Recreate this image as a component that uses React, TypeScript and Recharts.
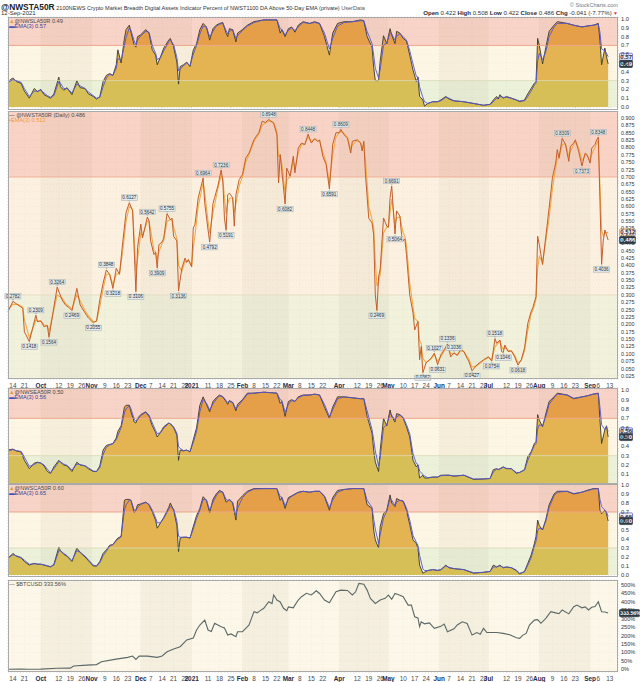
import React from "react";
import {
  Area,
  CartesianGrid,
  ComposedChart,
  Line,
  ReferenceArea,
  ReferenceDot,
  ReferenceLine,
  Scatter,
  XAxis,
  YAxis,
} from "recharts";

const FONT = '"Liberation Sans", Arial, sans-serif';

// x axis is a day count from 11-Sep-2020
const TICK_DAYS = [3, 10, 20, 31, 38, 45, 51, 59, 66, 73, 81, 87, 94, 101, 108, 112, 122, 129, 136, 143, 150, 157, 164, 171, 178, 185, 192, 202, 213, 220, 227, 232, 241, 248, 255, 263, 269, 276, 283, 290, 293, 304, 311, 318, 324, 332, 339, 346, 355, 360, 367];
const TICK_LABELS = ["14", "21", "Oct", "12", "19", "26", "Nov", "9", "16", "23", "Dec", "7", "14", "21", "28", "2021", "11", "18", "25", "Feb", "8", "15", "22", "Mar", "8", "15", "22", "Apr", "12", "19", "26", "May", "10", "17", "24", "Jun", "7", "14", "21", "28", "Jul", "12", "19", "26", "Aug", "9", "16", "23", "Sep", "6", "13"];
const SHADED_MONTHS = [[20, 51], [81, 112], [143, 171], [202, 232], [263, 293], [324, 355]];

const TENTHS = [0, 0.1, 0.2, 0.3, 0.4, 0.5, 0.6, 0.7, 0.8, 0.9, 1.0];
const TENTHS_NO_ZERO = [0.1, 0.2, 0.3, 0.4, 0.5, 0.6, 0.7, 0.8, 0.9, 1.0];
const STA_TICKS = [0.025, 0.05, 0.075, 0.1, 0.125, 0.15, 0.175, 0.2, 0.225, 0.25, 0.275, 0.3, 0.325, 0.35, 0.375, 0.4, 0.425, 0.45, 0.475, 0.5, 0.525, 0.55, 0.575, 0.6, 0.625, 0.65, 0.675, 0.7, 0.725, 0.75, 0.775, 0.8, 0.825, 0.85, 0.875, 0.9];
const BTC_TICKS = [0, 50, 100, 150, 200, 250, 300, 350, 400, 450, 500];

// days shared by the three area panels
const GRID_DAYS = [
  0, 3, 5, 8, 10, 13, 16, 18, 20, 22,
  24, 26, 28, 31, 32, 34, 36, 39, 42, 44,
  47, 49, 52, 54, 56, 58, 60, 62, 64, 66,
  67, 69, 71, 72, 74, 75, 77, 78, 79, 81,
  84, 86, 88, 90, 91, 93, 95, 98, 99, 101,
  103, 104, 105, 107, 109, 111, 113, 115, 117, 119,
  121, 123, 125, 127, 129, 131, 133, 134, 135, 137,
  139, 140, 143, 146, 150, 156, 164, 166, 167, 169,
  171, 173, 175, 177, 180, 184, 187, 190, 193, 196,
  198, 201, 205, 210, 215, 217, 219, 222, 223, 224,
  226, 227, 229, 231, 233, 234, 236, 237, 239, 241,
  243, 245, 247, 249, 250, 251, 253, 254, 256, 259,
  262, 264, 267, 269, 272, 278, 284, 290, 294, 296,
  298, 299, 300, 302, 304, 307, 310, 312, 315, 317,
  319, 321, 322, 323, 324, 326, 328, 330, 333, 335,
  341, 345, 350, 353, 357, 360, 361, 362, 364, 365, 366,
];

// @NWSLA50R
const SLA_VALUES = [
  0.29, 0.33, 0.29, 0.27, 0.18, 0.10, 0.21, 0.175, 0.20, 0.14,
  0.12, 0.10, 0.15, 0.34, 0.23, 0.19, 0.22, 0.14, 0.30, 0.22,
  0.21, 0.15, 0.12, 0.09, 0.12, 0.29, 0.36, 0.38, 0.36, 0.48,
  0.65, 0.50, 0.78, 0.88, 0.93, 0.85, 0.70, 0.68, 0.80, 0.82,
  0.88, 0.84, 0.65, 0.59, 0.48, 0.57, 0.67, 0.76, 0.78, 0.68,
  0.51, 0.26, 0.46, 0.48, 0.51, 0.46, 0.65, 0.72, 0.88, 0.95,
  0.91, 0.76, 0.89, 0.93, 0.95, 0.96, 0.84, 0.80, 0.89, 0.88,
  0.74, 0.84, 0.88, 0.93, 0.97, 0.99, 0.99, 0.84, 0.88, 0.80,
  0.89, 0.91, 0.85, 0.93, 0.97, 0.95, 0.97, 0.95, 0.80, 0.59,
  0.84, 0.95, 0.97, 0.97, 0.99, 0.98, 0.80, 0.68, 0.45, 0.30,
  0.30, 0.53, 0.81, 0.72, 0.89, 0.82, 0.72, 0.86, 0.84, 0.78,
  0.75, 0.59, 0.42, 0.29, 0.34, 0.12, 0.08, 0.01, 0.04, 0.06,
  0.06, 0.08, 0.12, 0.09, 0.07, 0.06, 0.04, 0.02, 0.03, 0.08,
  0.12, 0.09, 0.14, 0.10, 0.12, 0.10, 0.08, 0.06, 0.08, 0.15,
  0.21, 0.27, 0.29, 0.78, 0.70, 0.49, 0.68, 0.86, 0.93, 0.97,
  0.95, 0.93, 0.91, 0.92, 0.93, 0.95, 0.75, 0.48, 0.67, 0.57, 0.49,
];
const SLA_EMA = [
  0.28, 0.31, 0.30, 0.28, 0.21, 0.12, 0.18, 0.18, 0.19, 0.16,
  0.13, 0.11, 0.13, 0.29, 0.27, 0.21, 0.21, 0.16, 0.26, 0.24,
  0.21, 0.17, 0.13, 0.10, 0.11, 0.23, 0.33, 0.37, 0.36, 0.44,
  0.55, 0.53, 0.70, 0.79, 0.90, 0.87, 0.75, 0.71, 0.76, 0.81,
  0.86, 0.85, 0.70, 0.61, 0.54, 0.56, 0.64, 0.74, 0.76, 0.71,
  0.56, 0.41, 0.43, 0.47, 0.50, 0.47, 0.60, 0.70, 0.83, 0.92,
  0.91, 0.80, 0.86, 0.92, 0.94, 0.95, 0.87, 0.83, 0.86, 0.88,
  0.78, 0.81, 0.87, 0.92, 0.96, 0.99, 0.99, 0.89, 0.88, 0.82,
  0.87, 0.90, 0.87, 0.91, 0.96, 0.95, 0.96, 0.95, 0.84, 0.66,
  0.78, 0.92, 0.96, 0.97, 0.98, 0.98, 0.86, 0.72, 0.59, 0.44,
  0.33, 0.43, 0.70, 0.73, 0.84, 0.83, 0.76, 0.81, 0.83, 0.80,
  0.76, 0.64, 0.49, 0.35, 0.34, 0.23, 0.11, 0.06, 0.04, 0.06,
  0.06, 0.07, 0.11, 0.10, 0.07, 0.06, 0.04, 0.02, 0.03, 0.06,
  0.10, 0.10, 0.12, 0.11, 0.11, 0.10, 0.08, 0.07, 0.07, 0.12,
  0.18, 0.25, 0.27, 0.52, 0.61, 0.54, 0.63, 0.80, 0.91, 0.95,
  0.95, 0.93, 0.91, 0.92, 0.93, 0.94, 0.85, 0.66, 0.64, 0.61, 0.57,
];

// @NWSEA50R
const SEA_VALUES = [
  0.36, 0.37, 0.35, 0.34, 0.25, 0.16, 0.22, 0.23, 0.22, 0.19,
  0.13, 0.11, 0.18, 0.25, 0.23, 0.20, 0.19, 0.13, 0.23, 0.20,
  0.19, 0.16, 0.13, 0.13, 0.19, 0.36, 0.41, 0.42, 0.43, 0.49,
  0.56, 0.62, 0.82, 0.84, 0.84, 0.77, 0.66, 0.65, 0.70, 0.74,
  0.77, 0.72, 0.62, 0.55, 0.50, 0.55, 0.61, 0.65, 0.64, 0.60,
  0.52, 0.25, 0.36, 0.35, 0.36, 0.34, 0.47, 0.60, 0.84, 0.93,
  0.85, 0.77, 0.88, 0.92, 0.95, 0.93, 0.88, 0.85, 0.89, 0.87,
  0.78, 0.85, 0.90, 0.97, 0.97, 0.98, 0.97, 0.86, 0.88, 0.72,
  0.88, 0.90, 0.88, 0.93, 0.95, 0.95, 0.96, 0.95, 0.82, 0.70,
  0.82, 0.93, 0.93, 0.92, 0.91, 0.91, 0.72, 0.54, 0.36, 0.23,
  0.13, 0.36, 0.70, 0.62, 0.79, 0.72, 0.66, 0.75, 0.74, 0.70,
  0.61, 0.50, 0.25, 0.18, 0.20, 0.06, 0.09, 0.06, 0.06, 0.07,
  0.07, 0.09, 0.09, 0.09, 0.08, 0.09, 0.045, 0.05, 0.055, 0.15,
  0.16, 0.15, 0.16, 0.18, 0.16, 0.16, 0.11, 0.12, 0.15, 0.29,
  0.34, 0.43, 0.45, 0.74, 0.68, 0.61, 0.75, 0.88, 0.93, 0.97,
  0.95, 0.91, 0.93, 0.94, 0.96, 0.97, 0.68, 0.43, 0.58, 0.62, 0.50,
];
const SEA_EMA = [
  0.35, 0.365, 0.355, 0.345, 0.285, 0.185, 0.205, 0.225, 0.222, 0.20,
  0.155, 0.12, 0.16, 0.235, 0.232, 0.21, 0.195, 0.145, 0.21, 0.205,
  0.19, 0.17, 0.135, 0.13, 0.17, 0.31, 0.39, 0.415, 0.427, 0.47,
  0.515, 0.60, 0.76, 0.80, 0.835, 0.80, 0.69, 0.67, 0.685, 0.73,
  0.765, 0.735, 0.65, 0.57, 0.535, 0.545, 0.595, 0.645, 0.643, 0.61,
  0.54, 0.395, 0.378, 0.355, 0.358, 0.345, 0.44, 0.56, 0.77, 0.90,
  0.865, 0.79, 0.855, 0.905, 0.94, 0.935, 0.89, 0.87, 0.88, 0.872,
  0.80, 0.825, 0.89, 0.96, 0.97, 0.98, 0.97, 0.90, 0.89, 0.765,
  0.85, 0.89, 0.883, 0.92, 0.945, 0.95, 0.958, 0.95, 0.85, 0.72,
  0.79, 0.91, 0.93, 0.92, 0.91, 0.91, 0.78, 0.58, 0.47, 0.35,
  0.19, 0.275, 0.60, 0.63, 0.75, 0.735, 0.68, 0.715, 0.737, 0.71,
  0.635, 0.535, 0.32, 0.215, 0.207, 0.135, 0.10, 0.08, 0.065, 0.07,
  0.07, 0.085, 0.09, 0.09, 0.082, 0.09, 0.05, 0.05, 0.055, 0.125,
  0.155, 0.153, 0.157, 0.175, 0.164, 0.16, 0.12, 0.12, 0.145, 0.25,
  0.33, 0.41, 0.43, 0.585, 0.63, 0.62, 0.72, 0.85, 0.92, 0.96,
  0.95, 0.915, 0.93, 0.94, 0.96, 0.965, 0.82, 0.63, 0.58, 0.61, 0.56,
];

// @NWSCA50R
const SCA_VALUES = [
  0.185, 0.24, 0.21, 0.19, 0.15, 0.11, 0.13, 0.12, 0.12, 0.11,
  0.10, 0.09, 0.12, 0.31, 0.27, 0.23, 0.21, 0.15, 0.30, 0.25,
  0.20, 0.16, 0.10, 0.10, 0.15, 0.24, 0.28, 0.33, 0.34, 0.39,
  0.41, 0.43, 0.83, 0.84, 0.84, 0.83, 0.69, 0.72, 0.78, 0.79,
  0.81, 0.78, 0.70, 0.61, 0.52, 0.58, 0.64, 0.75, 0.80, 0.72,
  0.55, 0.26, 0.41, 0.42, 0.42, 0.41, 0.54, 0.66, 0.74, 0.87,
  0.83, 0.69, 0.84, 0.90, 0.94, 0.92, 0.81, 0.82, 0.84, 0.80,
  0.61, 0.82, 0.88, 0.93, 0.96, 0.96, 0.96, 0.83, 0.86, 0.74,
  0.86, 0.88, 0.90, 0.92, 0.93, 0.92, 0.93, 0.93, 0.87, 0.72,
  0.86, 0.94, 0.95, 0.96, 0.96, 0.96, 0.78, 0.74, 0.50, 0.39,
  0.30, 0.54, 0.68, 0.72, 0.89, 0.80, 0.76, 0.85, 0.83, 0.82,
  0.72, 0.56, 0.39, 0.35, 0.30, 0.11, 0.02, 0.03, 0.05, 0.06,
  0.05, 0.06, 0.11, 0.08, 0.07, 0.06, 0.02, 0.03, 0.04, 0.11,
  0.09, 0.10, 0.11, 0.08, 0.09, 0.08, 0.05, 0.01, 0.04, 0.13,
  0.22, 0.35, 0.43, 0.61, 0.55, 0.50, 0.62, 0.78, 0.90, 0.93,
  0.93, 0.90, 0.92, 0.94, 0.96, 0.96, 0.72, 0.68, 0.72, 0.68, 0.60,
];
const SCA_EMA = [
  0.19, 0.225, 0.215, 0.195, 0.165, 0.12, 0.125, 0.122, 0.12, 0.113,
  0.103, 0.093, 0.11, 0.27, 0.27, 0.24, 0.215, 0.16, 0.27, 0.255,
  0.21, 0.17, 0.11, 0.10, 0.135, 0.215, 0.265, 0.32, 0.337, 0.38,
  0.395, 0.425, 0.72, 0.78, 0.83, 0.83, 0.72, 0.72, 0.75, 0.785,
  0.805, 0.785, 0.72, 0.635, 0.58, 0.58, 0.63, 0.73, 0.765, 0.735,
  0.60, 0.43, 0.42, 0.42, 0.42, 0.412, 0.51, 0.63, 0.72, 0.84,
  0.835, 0.72, 0.81, 0.88, 0.925, 0.92, 0.84, 0.83, 0.835, 0.81,
  0.66, 0.74, 0.86, 0.92, 0.955, 0.96, 0.96, 0.87, 0.865, 0.77,
  0.84, 0.875, 0.895, 0.915, 0.93, 0.92, 0.93, 0.93, 0.88, 0.75,
  0.83, 0.92, 0.95, 0.96, 0.96, 0.96, 0.83, 0.75, 0.62, 0.51,
  0.35, 0.45, 0.63, 0.71, 0.85, 0.83, 0.775, 0.81, 0.83, 0.822,
  0.745, 0.61, 0.44, 0.365, 0.33, 0.22, 0.07, 0.05, 0.05, 0.06,
  0.053, 0.058, 0.10, 0.085, 0.072, 0.06, 0.025, 0.03, 0.04, 0.09,
  0.09, 0.095, 0.103, 0.085, 0.088, 0.082, 0.055, 0.02, 0.035, 0.11,
  0.19, 0.32, 0.375, 0.49, 0.52, 0.51, 0.60, 0.75, 0.88, 0.92,
  0.93, 0.905, 0.92, 0.935, 0.955, 0.96, 0.84, 0.76, 0.72, 0.70, 0.65,
];

// @NWSTA50R (Daily) and its EMA(3)
const STA_DAYS = [
  0, 3, 6, 9, 10, 13, 17, 18, 20, 22,
  24, 25, 30, 33, 35, 37, 39, 42, 44, 47,
  49, 52, 54, 56, 58, 60, 62, 64, 66, 68,
  70, 72, 74, 76, 78, 79, 81, 82, 85, 86,
  87, 89, 90, 91, 92, 94, 95, 97, 99, 100,
  101, 103, 104, 106, 108, 109, 110, 112, 113, 114,
  116, 119, 120, 122, 123, 125, 126, 128, 130, 131,
  132, 133, 134, 135, 137, 138, 139, 141, 143, 145,
  147, 150, 152, 153, 155, 157, 159, 162, 164, 165,
  166, 167, 169, 170, 172, 174, 175, 177, 179, 181,
  183, 185, 187, 189, 190, 192, 194, 196, 198, 200,
  202, 203, 205, 207, 209, 210, 213, 215, 216, 217,
  218, 220, 222, 223, 224, 225, 226, 227, 229, 231,
  232, 233, 234, 236, 237, 239, 240, 241, 242, 243,
  245, 247, 248, 250, 251, 252, 253, 255, 258, 260,
  262, 264, 266, 268, 270, 272, 274, 276, 278, 280,
  281, 283, 286, 290, 293, 295, 297, 298, 300, 301,
  302, 303, 305, 307, 309, 311, 313, 315, 317, 319,
  320, 322, 323, 324, 326, 330, 332, 334, 335, 336,
  338, 340, 342, 343, 345, 346, 348, 350, 352, 353,
  355, 356, 358, 359, 360, 362, 363, 364, 366,
];
const STA_VALUES = [
  0.243, 0.2782, 0.266, 0.255, 0.175, 0.1418, 0.2309, 0.209, 0.212, 0.192,
  0.196, 0.1564, 0.3264, 0.283, 0.266, 0.258, 0.2469, 0.322, 0.266, 0.239,
  0.222, 0.2055, 0.212, 0.283, 0.34, 0.3848, 0.369, 0.3218, 0.39, 0.37,
  0.48, 0.58, 0.6127, 0.585, 0.3106, 0.46, 0.54, 0.493, 0.5642, 0.551,
  0.483, 0.437, 0.445, 0.3909, 0.47, 0.48, 0.493, 0.5755, 0.555, 0.56,
  0.499, 0.483, 0.3136, 0.39, 0.425, 0.41, 0.42, 0.395, 0.527, 0.538,
  0.629, 0.6964, 0.61, 0.52, 0.4792, 0.61, 0.63, 0.67, 0.7236, 0.686,
  0.56, 0.5191, 0.64, 0.645, 0.63, 0.533, 0.64, 0.691, 0.708, 0.764,
  0.781, 0.826, 0.843, 0.85, 0.889, 0.885, 0.8948, 0.883, 0.843, 0.68,
  0.776, 0.72, 0.6082, 0.73, 0.703, 0.77, 0.714, 0.798, 0.815, 0.81,
  0.8448, 0.815, 0.83, 0.82, 0.826, 0.77, 0.742, 0.6591, 0.81, 0.85,
  0.85, 0.8609, 0.843, 0.832, 0.781, 0.821, 0.826, 0.815, 0.788, 0.821,
  0.708, 0.56, 0.544, 0.504, 0.30, 0.2469, 0.36, 0.39, 0.561, 0.533,
  0.53, 0.63, 0.6691, 0.5064, 0.585, 0.567, 0.504, 0.483, 0.49, 0.437,
  0.30, 0.239, 0.181, 0.21, 0.08, 0.125, 0.0362, 0.07, 0.085, 0.1027,
  0.0631, 0.097, 0.114, 0.1336, 0.09, 0.1036, 0.095, 0.115, 0.108, 0.085,
  0.075, 0.0427, 0.063, 0.08, 0.09, 0.0754, 0.1518, 0.136, 0.147, 0.108,
  0.1046, 0.13, 0.108, 0.11, 0.09, 0.0618, 0.08, 0.12, 0.204, 0.243,
  0.256, 0.294, 0.499, 0.47, 0.403, 0.595, 0.697, 0.747, 0.793, 0.764,
  0.8309, 0.81, 0.753, 0.804, 0.815, 0.826, 0.787, 0.7373, 0.781, 0.776,
  0.747, 0.798, 0.81, 0.826, 0.8348, 0.4036, 0.483, 0.52, 0.486,
];
const STA_EMA = [
  0.25, 0.268, 0.268, 0.258, 0.216, 0.155, 0.215, 0.212, 0.211, 0.198,
  0.196, 0.176, 0.30, 0.29, 0.272, 0.262, 0.252, 0.30, 0.28, 0.246,
  0.23, 0.21, 0.21, 0.26, 0.32, 0.37, 0.37, 0.335, 0.37, 0.372,
  0.45, 0.55, 0.60, 0.59, 0.38, 0.42, 0.51, 0.50, 0.55, 0.55,
  0.52, 0.45, 0.447, 0.42, 0.445, 0.475, 0.485, 0.55, 0.555, 0.558,
  0.53, 0.49, 0.40, 0.38, 0.415, 0.413, 0.417, 0.40, 0.46, 0.50,
  0.60, 0.68, 0.645, 0.55, 0.51, 0.58, 0.605, 0.66, 0.705, 0.695,
  0.63, 0.575, 0.61, 0.627, 0.63, 0.58, 0.61, 0.67, 0.70, 0.75,
  0.775, 0.82, 0.838, 0.845, 0.875, 0.883, 0.89, 0.885, 0.855, 0.77,
  0.773, 0.745, 0.645, 0.69, 0.70, 0.75, 0.73, 0.78, 0.81, 0.81,
  0.835, 0.82, 0.828, 0.822, 0.824, 0.785, 0.75, 0.68, 0.775, 0.835,
  0.85, 0.855, 0.847, 0.835, 0.795, 0.808, 0.824, 0.817, 0.80, 0.81,
  0.76, 0.60, 0.555, 0.53, 0.415, 0.33, 0.345, 0.37, 0.51, 0.53,
  0.53, 0.58, 0.625, 0.54, 0.56, 0.565, 0.535, 0.51, 0.50, 0.468,
  0.34, 0.26, 0.22, 0.21, 0.145, 0.135, 0.085, 0.07, 0.083, 0.097,
  0.075, 0.09, 0.11, 0.128, 0.10, 0.102, 0.097, 0.11, 0.108, 0.09,
  0.083, 0.055, 0.06, 0.078, 0.088, 0.08, 0.125, 0.13, 0.145, 0.127,
  0.115, 0.122, 0.112, 0.11, 0.095, 0.07, 0.077, 0.11, 0.18, 0.235,
  0.246, 0.285, 0.39, 0.43, 0.41, 0.56, 0.66, 0.73, 0.76, 0.762,
  0.81, 0.812, 0.77, 0.787, 0.81, 0.818, 0.80, 0.755, 0.775, 0.776,
  0.755, 0.777, 0.80, 0.813, 0.824, 0.52, 0.50, 0.51, 0.512,
];

// annotated turning points on the daily panel (1 = label above)
const TAG_DAYS = [3, 13, 17, 25, 30, 39, 52, 60, 64, 74, 78, 85, 91, 97, 104, 119, 123, 130, 133, 159, 169, 183, 196, 203, 225, 234, 236, 253, 260, 262, 268, 272, 283, 295, 297, 302, 311, 338, 350, 360, 362];
const TAG_UP = [1, 0, 1, 0, 1, 0, 0, 1, 0, 1, 0, 1, 0, 1, 0, 1, 0, 1, 0, 1, 0, 1, 0, 1, 0, 1, 0, 0, 1, 0, 1, 1, 0, 0, 1, 0, 0, 1, 0, 1, 0];

// $BTCUSD, % change since start
const BTC_DAYS = [
  0, 8, 12, 20, 30, 38, 40, 48, 54, 57,
  65, 73, 76, 78, 80, 85, 91, 94, 97, 101,
  105, 109, 113, 115, 117, 120, 122, 124, 126, 130,
  132, 134, 136, 139, 140, 143, 145, 147, 150, 152,
  154, 156, 159, 161, 162, 164, 166, 168, 170, 171,
  174, 175, 177, 179, 182, 185, 188, 190, 193, 196,
  200, 203, 207, 210, 212, 214, 217, 219, 221, 224,
  227, 230, 232, 234, 236, 239, 241, 244, 246, 248,
  250, 251, 252, 254, 257, 260, 264, 266, 268, 272,
  274, 277, 280, 283, 286, 288, 290, 292, 295, 298,
  302, 306, 310, 312, 314, 316, 318, 321, 323, 325,
  328, 331, 334, 336, 338, 342, 345, 347, 350, 352,
  354, 356, 358, 360, 362, 364, 366,
];
const BTC_PCT = [
  0, 2, 0, 1, 6, 7, 20, 25, 28, 45,
  59, 71, 79, 59, 79, 78, 71, 79, 104, 120,
  134, 174, 186, 233, 263, 292, 233, 224, 273, 253,
  245, 203, 210, 193, 223, 223, 243, 263, 342, 335,
  350, 362, 401, 390, 441, 411, 400, 362, 348, 370,
  365, 381, 411, 431, 451, 441, 466, 450, 411, 395,
  460, 470, 468, 441, 460, 510, 505, 470, 421, 391,
  411, 421, 440, 415, 450, 440, 431, 381, 381, 312,
  305, 253, 282, 270, 275, 243, 255, 269, 223, 240,
  263, 282, 272, 203, 218, 208, 243, 218, 218, 218,
  213, 205, 187, 184, 203, 213, 263, 292, 295, 273,
  302, 342, 335, 330, 352, 329, 371, 381, 365, 370,
  352, 368, 372, 401, 342, 340, 333.56,
];

const X_DOMAIN = [0, 372];
const PAD = 4; // room above each plot so its top tick label is not cut

function DateTick(props: any) {
  const { x, y, payload } = props;
  const label = TICK_LABELS[TICK_DAYS.indexOf(payload.value)] ?? "";
  const bold = /[A-Za-z]/.test(label) || label === "2021";
  return (
    <text x={x} y={y + 6.6} textAnchor="middle" fontSize={6.4} fontWeight={bold ? 700 : 400}
      fill={bold ? "#1e2c4c" : "#4a4a4a"} fontFamily={FONT}>
      {label}
    </text>
  );
}

function valueTag(text: string, kind: "dark" | "blue" | "orange", w: number, fs = 6) {
  return (props: any) => {
    const { cx, cy } = props;
    const fill = kind === "dark" ? "#2e3a44" : kind === "blue" ? "#eef0fb" : "#fff3e6";
    const stroke = kind === "dark" ? "#2e3a44" : kind === "blue" ? "#4b4bc4" : "#e98b3a";
    return (
      <g>
        <rect x={cx + 1.5} y={cy - 3.6} width={w} height={7.2} rx={1} fill={fill} stroke={stroke} strokeWidth={0.7} />
        <text x={cx + 2.3} y={cy + 2.1} fontSize={fs} fontWeight={700} fill={kind === "dark" ? "#fff" : "#2a2a3a"} fontFamily={FONT}>
          {text}
        </text>
      </g>
    );
  };
}

function TagShape(props: any) {
  const { cx, cy, payload } = props;
  if (cx == null || cy == null) return null;
  const up = payload.up === 1;
  const w = 16;
  const h = 5.4;
  const by = up ? cy - 2.4 - h : cy + 2.4;
  const tri = up
    ? `M${cx - 1.5},${cy - 2.4} L${cx + 1.5},${cy - 2.4} L${cx},${cy - 0.6} Z`
    : `M${cx - 1.5},${cy + 2.4} L${cx + 1.5},${cy + 2.4} L${cx},${cy + 0.6} Z`;
  return (
    <g>
      <path d={tri} fill="#b9c3c6" />
      <rect x={cx - w / 2} y={by} width={w} height={h} fill="#e4eaeb" stroke="#9ea8ab" strokeWidth={0.5} />
      <text x={cx} y={by + h - 1.1} textAnchor="middle" fontSize={4.6} fill="#26323a" fontFamily={FONT}>
        {payload.v.toFixed(4)}
      </text>
    </g>
  );
}

function Legend({ top, rows }: { top: number; rows: { mark: string; markColor: string; text: string; color: string }[] }) {
  return (
    <>
      {rows.map((r, i) => (
        <div key={i} style={{ position: "absolute", left: 9, top: top + i * 5.3, fontSize: 5.6, lineHeight: "6px", color: r.color, whiteSpace: "nowrap" }}>
          <span style={{ color: r.markColor }}>{r.mark}</span>
          {r.text}
        </div>
      ))}
    </>
  );
}

function Frame({ top, height }: { top: number; height: number }) {
  return <div style={{ position: "absolute", left: 8, top, width: 610, height, boxSizing: "border-box", border: "1px solid #a9a9a9", pointerEvents: "none" }} />;
}

interface AreaPanelProps {
  id: string;
  top: number;
  height: number;
  lo: number;
  hi: number;
  ticks: number[];
  values: number[];
  ema: number[];
  name: string;
}

function AreaPanel({ id, top, height, lo, hi, ticks, values, ema, name }: AreaPanelProps) {
  const data = GRID_DAYS.map((day, i) => ({ day, v: values[i], e: ema[i] }));
  const last = values[values.length - 1];
  const emaLast = ema[ema.length - 1];
  const span = hi - lo;
  const o7 = (hi - 0.7) / span;
  const o3 = (hi - 0.3) / span;
  return (
    <div style={{ position: "absolute", left: 0, top: top - PAD, width: 640, height: height + PAD }}>
      <ComposedChart width={640} height={height + PAD} data={data} margin={{ top: PAD, right: 0, bottom: 0, left: 8 }}>
        <defs>
          <linearGradient id={id} gradientUnits="userSpaceOnUse" x1={0} y1={PAD} x2={0} y2={PAD + height}>
            <stop offset={0} stopColor="#e59f48" />
            <stop offset={o7} stopColor="#e59f48" />
            <stop offset={o7} stopColor="#e3b451" />
            <stop offset={o3} stopColor="#e3b451" />
            <stop offset={o3} stopColor="#d7bf57" />
            <stop offset={1} stopColor="#d7bf57" />
          </linearGradient>
        </defs>
        <XAxis type="number" dataKey="day" domain={X_DOMAIN} ticks={TICK_DAYS} allowDataOverflow hide />
        <YAxis orientation="right" width={22} domain={[lo, hi]} ticks={ticks} allowDataOverflow interval={0}
          tickSize={0} tickMargin={3} axisLine={false}
          tick={{ fontSize: 5.8, fill: "#333", fontFamily: FONT }} tickFormatter={(v: number) => v.toFixed(1)} />
        <ReferenceArea y1={0.7} y2={hi} fill="#f6c6b6" fillOpacity={0.75} stroke="none" />
        <ReferenceArea y1={0.3} y2={0.7} fill="#fcf3db" fillOpacity={0.75} stroke="none" />
        <ReferenceArea y1={0} y2={0.3} fill="#e6ecce" fillOpacity={0.75} stroke="none" />
        {SHADED_MONTHS.map(([a, b]) => (
          <ReferenceArea key={a} x1={a} x2={b} fill="#7a6a40" fillOpacity={0.05} stroke="none" />
        ))}
        <CartesianGrid strokeDasharray="1 2" stroke="#bfb9a6" strokeWidth={0.6} />
        <ReferenceLine y={0.7} stroke="#f0a68c" strokeWidth={1} />
        <ReferenceLine y={0.3} stroke="#d9dcb6" strokeWidth={0.8} />
        <Area type="linear" dataKey="v" fill={`url(#${id})`} fillOpacity={1} stroke="#3b3829" strokeWidth={0.9}
          dot={false} activeDot={false} isAnimationActive={false} />
        <Line type="linear" dataKey="e" stroke="#5555d2" strokeWidth={0.9} dot={false} activeDot={false} isAnimationActive={false} />
        <ReferenceDot x={X_DOMAIN[1]} y={emaLast} ifOverflow="visible" shape={valueTag(emaLast.toFixed(2), "blue", 13)} />
        <ReferenceDot x={X_DOMAIN[1]} y={last} ifOverflow="visible" shape={valueTag(last.toFixed(2), "dark", 13)} />
      </ComposedChart>
      <Frame top={PAD} height={height} />
      <Legend top={PAD + 1} rows={[
        { mark: "\u25B2", markColor: "#e39a35", text: `${name} ${last.toFixed(2)}`, color: "#4a4a4a" },
        { mark: "\u25AC", markColor: "#4b4bc4", text: `EMA(3) ${emaLast.toFixed(2)}`, color: "#3b3b96" },
      ]} />
    </div>
  );
}

function DailyPanel() {
  const top = 111;
  const height = 277;
  const lo = 0.0148;
  const hi = 0.9237;
  const data = STA_DAYS.map((day, i) => ({ day, v: STA_VALUES[i], e: STA_EMA[i] }));
  const tags = TAG_DAYS.map((day, i) => ({ day, v: STA_VALUES[STA_DAYS.indexOf(day)], up: TAG_UP[i] }));
  const last = STA_VALUES[STA_VALUES.length - 1];
  const emaLast = STA_EMA[STA_EMA.length - 1];
  return (
    <div style={{ position: "absolute", left: 0, top, width: 640, height }}>
      <ComposedChart width={640} height={height} data={data} margin={{ top: 0, right: 0, bottom: 0, left: 8 }}>
        <XAxis type="number" dataKey="day" domain={X_DOMAIN} ticks={TICK_DAYS} interval={0}
          height={9} tickSize={0} axisLine={false} tick={(p: any) => <DateTick {...p} />} />
        <YAxis orientation="right" width={22} domain={[lo, hi]} ticks={STA_TICKS} interval={0}
          tickSize={0} tickMargin={3} axisLine={false}
          tick={{ fontSize: 5.4, fill: "#333", fontFamily: FONT }} tickFormatter={(v: number) => v.toFixed(3)} />
        <ReferenceArea y1={0.7} y2={hi} fill="#f7c6b3" fillOpacity={0.75} stroke="none" />
        <ReferenceArea y1={0.3} y2={0.7} fill="#fbecd6" fillOpacity={0.75} stroke="none" />
        <ReferenceArea y1={lo} y2={0.3} fill="#ececd0" fillOpacity={0.75} stroke="none" />
        {SHADED_MONTHS.map(([a, b]) => (
          <ReferenceArea key={a} x1={a} x2={b} fill="#7a6a40" fillOpacity={0.05} stroke="none" />
        ))}
        <CartesianGrid strokeDasharray="1 2" stroke="#c4bdaa" strokeWidth={0.6} />
        <ReferenceLine y={0.7} stroke="#f3b29a" strokeWidth={1} />
        <ReferenceLine y={0.3} stroke="#e6dcc0" strokeWidth={0.8} />
        <Line type="linear" dataKey="e" stroke="#f3ab45" strokeWidth={1.1} dot={false} activeDot={false} isAnimationActive={false} />
        <Line type="linear" dataKey="v" stroke="#c25e2c" strokeWidth={1} dot={false} activeDot={false} isAnimationActive={false} />
        <Scatter data={tags} dataKey="v" shape={TagShape} isAnimationActive={false} />
        <ReferenceDot x={X_DOMAIN[1]} y={emaLast} ifOverflow="visible" shape={valueTag(emaLast.toFixed(3), "orange", 16)} />
        <ReferenceDot x={X_DOMAIN[1]} y={last} ifOverflow="visible" shape={valueTag(last.toFixed(3), "dark", 16)} />
      </ComposedChart>
      <Frame top={0} height={268} />
      <Legend top={0.5} rows={[
        { mark: "\u2014 ", markColor: "#333", text: `@NWSTA50R (Daily) ${last.toFixed(3)}`, color: "#4a4a4a" },
        { mark: "\u25AA", markColor: "#f0a040", text: `EMA(3) ${emaLast.toFixed(3)}`, color: "#ee9a3c" },
      ]} />
    </div>
  );
}

function BtcPanel() {
  const top = 580;
  const height = 102;
  const data = BTC_DAYS.map((day, i) => ({ day, p: BTC_PCT[i] }));
  const last = BTC_PCT[BTC_PCT.length - 1];
  return (
    <div style={{ position: "absolute", left: 0, top: top - PAD, width: 640, height: height + PAD }}>
      <ComposedChart width={640} height={height + PAD} data={data} margin={{ top: PAD, right: 0, bottom: 0, left: 8 }}>
        <XAxis type="number" dataKey="day" domain={X_DOMAIN} ticks={TICK_DAYS} allowDataOverflow interval={0}
          height={10} tickSize={0} axisLine={false} tick={(p: any) => <DateTick {...p} />} />
        <YAxis orientation="right" width={22} domain={[-16, 530]} ticks={BTC_TICKS} allowDataOverflow interval={0}
          tickSize={0} tickMargin={3} axisLine={false}
          tick={{ fontSize: 5.6, fill: "#333", fontFamily: FONT }} tickFormatter={(v: number) => `${v}%`} />
        <ReferenceArea y1={-16} y2={530} fill="#fbf4e0" fillOpacity={0.75} stroke="none" />
        {SHADED_MONTHS.map(([a, b]) => (
          <ReferenceArea key={a} x1={a} x2={b} fill="#7a6a40" fillOpacity={0.05} stroke="none" />
        ))}
        <CartesianGrid strokeDasharray="1 2" stroke="#c4bdaa" strokeWidth={0.6} />
        <Line type="linear" dataKey="p" stroke="#5b6969" strokeWidth={1.1} dot={false} activeDot={false} isAnimationActive={false} />
        <ReferenceDot x={X_DOMAIN[1]} y={last} ifOverflow="visible" shape={valueTag(`${last.toFixed(2)}%`, "dark", 20, 5.2)} />
      </ComposedChart>
      <Frame top={PAD} height={92} />
      <Legend top={PAD + 0.5} rows={[
        { mark: "\u2014 ", markColor: "#555", text: `$BTCUSD ${last.toFixed(2)}%`, color: "#4a4a4a" },
      ]} />
    </div>
  );
}

function Header() {
  const lab: React.CSSProperties = { fontWeight: 700, color: "#2a2a3a" };
  return (
    <>
      <div style={{ position: "absolute", left: 1, top: 0, height: 9, lineHeight: "9px", whiteSpace: "nowrap", color: "#333" }}>
        <span style={{ fontSize: 8.4, fontWeight: 700, color: "#222" }}>@NWSTA50R</span>
        <span style={{ fontSize: 5.6 }}> 2100NEWS Crypto Market Breadth Digital Assets Indicator Percent of NWST1100 DA Above 50-Day EMA (private) </span>
        <span style={{ fontSize: 5.6, color: "#555" }}>UserData</span>
      </div>
      <div style={{ position: "absolute", left: 1, top: 10, fontSize: 6, lineHeight: "6px", color: "#333" }}>12-Sep-2021</div>
      <div style={{ position: "absolute", right: 22, top: 2, fontSize: 5.6, lineHeight: "6px", color: "#777" }}>© StockCharts.com</div>
      <div style={{ position: "absolute", right: 22, top: 10, fontSize: 6.1, lineHeight: "6px", color: "#333", whiteSpace: "nowrap" }}>
        <span style={lab}>Open</span> 0.422 <span style={lab}>High</span> 0.508 <span style={lab}>Low</span> 0.422{" "}
        <span style={lab}>Close</span> 0.486 <span style={lab}>Chg</span> -0.041 (-7.77%)
        <span style={{ color: "#d33", fontSize: 5 }}> ▼</span>
      </div>
    </>
  );
}

export default function App() {
  return (
    <div style={{ position: "absolute", left: 0, top: 0, width: 640, height: 682, background: "#fff", fontFamily: FONT, overflow: "hidden" }}>
      <Header />
      <AreaPanel id="fillSLA" top={17} height={93} lo={-0.034} hi={1.023} ticks={TENTHS} values={SLA_VALUES} ema={SLA_EMA} name="@NWSLA50R" />
      <DailyPanel />
      <AreaPanel id="fillSEA" top={388} height={96} lo={-0.004} hi={1.025} ticks={TENTHS_NO_ZERO} values={SEA_VALUES} ema={SEA_EMA} name="@NWSEA50R" />
      <AreaPanel id="fillSCA" top={484} height={93} lo={-0.022} hi={1.011} ticks={TENTHS} values={SCA_VALUES} ema={SCA_EMA} name="@NWSCA50R" />
      <BtcPanel />
    </div>
  );
}
